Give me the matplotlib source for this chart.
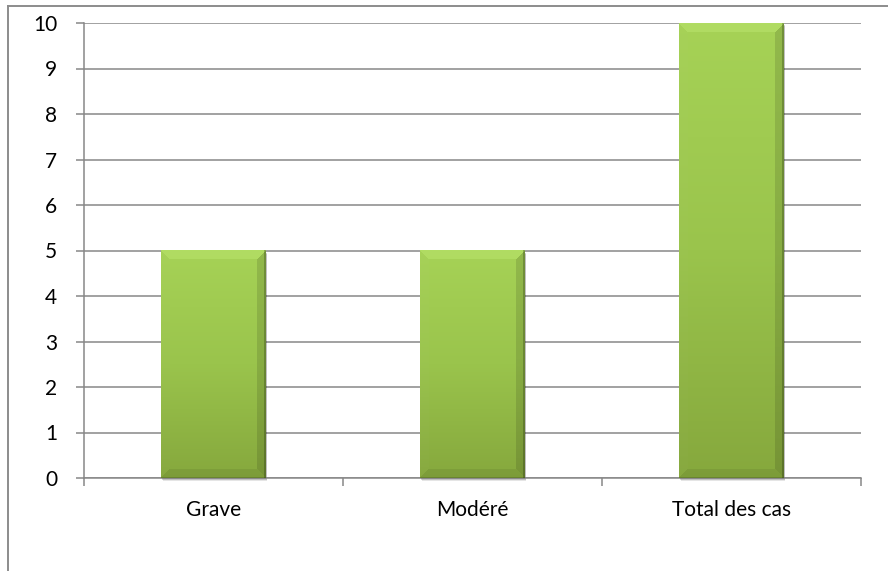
import numpy as np
import matplotlib
matplotlib.use("Agg")
import matplotlib.pyplot as plt
import matplotlib.transforms as mtransforms
from matplotlib.lines import Line2D
from matplotlib.patches import Rectangle

# Data
categories = ["Grave", "Modéré", "Total des cas"]
values = [5, 5, 10]
y_ticks = list(range(0, 11))

plt.rcParams['font.family'] = ['Lato', 'DejaVu Sans']

W, H, DPI = 888, 571, 100
fig = plt.figure(figsize=(W / DPI, H / DPI), dpi=DPI)
fig.patch.set_facecolor("white")

ax = fig.add_axes([84 / W, 1 - 478 / H, (861 - 84) / W, (478 - 23) / H])
ax.set_xlim(-0.5, len(categories) - 0.5)
ax.set_ylim(0, 10)

grid_col = "#878787"
ax.set_yticks(y_ticks)
ax.yaxis.grid(True, color=grid_col, linewidth=1.1)
ax.set_axisbelow(True)
for s in ("top", "right"):
    ax.spines[s].set_visible(False)
for s in ("left", "bottom"):
    ax.spines[s].set_color(grid_col)
    ax.spines[s].set_linewidth(1.1)

ax.tick_params(axis="y", direction="out", length=5.8, width=1.1, color=grid_col,
               pad=13.5, labelsize=15, labelcolor="black")

# category boundaries as major ticks, names on minor ticks
xs = np.arange(len(categories))
ax.set_xticks(np.arange(-0.5, len(categories), 1.0))
ax.set_xticklabels([])
ax.tick_params(axis="x", which="major", direction="out", length=5.8, width=1.1, color=grid_col)
ax.set_xticks(xs, minor=True)
ax.set_xticklabels(categories, minor=True)
ax.tick_params(axis="x", which="minor", length=0, pad=16, labelsize=15, labelcolor="black")

bars = ax.bar(xs, values, width=0.405, facecolor="none", edgecolor="none", zorder=3)

top_col = np.array([0xa6, 0xd2, 0x56]) / 255
mid_col = np.array([0x9a, 0xc4, 0x4c]) / 255
bot_col = np.array([0x86, 0xa8, 0x3d]) / 255

fig.canvas.draw()
for b in bars:
    x0, y0 = b.get_x(), b.get_y()
    x1, y1 = x0 + b.get_width(), y0 + b.get_height()

    # soft drop shadow slightly below/right of the bar
    for k, a in ((3, 0.10), (2, 0.16), (1, 0.22)):
        off = mtransforms.offset_copy(ax.transData, fig=fig, x=k * 0.5, y=-k,
                                      units="dots")
        ax.add_patch(Rectangle((x0, y0), x1 - x0, y1 - y0, transform=off,
                               facecolor="black", alpha=a, edgecolor="none",
                               zorder=2.5, clip_on=False))

    p0 = ax.transData.transform((x0, y0))
    p1 = ax.transData.transform((x1, y1))
    wp = max(int(round(p1[0] - p0[0])), 2)
    hp = max(int(round(p1[1] - p0[1])), 2)
    i = np.arange(hp)[:, None] * np.ones((1, wp))
    j = np.ones((hp, 1)) * np.arange(wp)[None, :]
    t = (i / (hp - 1))[..., None]
    # two-stage vertical gradient: top -> middle -> bottom
    img = np.where(t < 0.5,
                   top_col * (1 - 2 * t) + mid_col * (2 * t),
                   mid_col * (2 - 2 * t) + bot_col * (2 * t - 1))
    bev = 9
    top_reg = (i < bev) & (j >= i) & (wp - 1 - j >= i)
    right_reg = (wp - 1 - j < bev) & ~top_reg & (wp - 1 - j < hp - 1 - i)
    left_reg = (j < bev) & ~top_reg & (j < hp - 1 - i)
    bottom_reg = (hp - 1 - i < bev) & ~left_reg & ~right_reg
    img[top_reg] = img[top_reg] * 0.8 + np.array([0.76, 0.92, 0.48]) * 0.2 + 0.02
    img[left_reg] = img[left_reg] * 0.98 + 0.015
    img[right_reg] = img[right_reg] * 0.88
    img[bottom_reg] = img[bottom_reg] * 0.93
    # thin darker outline on the right and bottom edges
    img[:, -2:] *= 0.78
    img[-1, :] *= 0.85
    img = np.clip(img, 0, 1)
    ax.imshow(img, extent=(x0, x1, y0, y1), aspect="auto", zorder=3,
              interpolation="bilinear", origin="upper")

ax.set_xlim(-0.5, len(categories) - 0.5)
ax.set_ylim(0, 10)

# chart area border
frame_col = "#8c8c8c"
fig.add_artist(Line2D([8 / W, 1.0], [1 - 6 / H, 1 - 6 / H], color=frame_col, linewidth=1.4,
                      transform=fig.transFigure))
fig.add_artist(Line2D([8 / W, 8 / W], [1 - 6 / H, 0.0], color=frame_col, linewidth=1.4,
                      transform=fig.transFigure))

fig.savefig("out.png", dpi=DPI)
